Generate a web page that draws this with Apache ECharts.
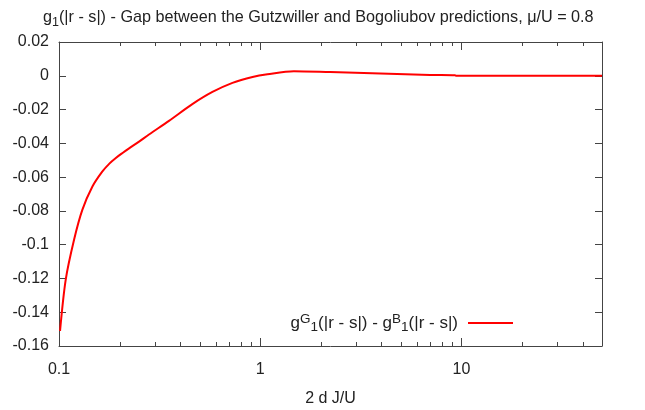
<!DOCTYPE html>
<html>
<head>
<meta charset="utf-8">
<script src="https://cdn.jsdelivr.net/npm/echarts@6/dist/echarts.min.js"></script>
<style>
  html, body { margin: 0; padding: 0; background: #fff; }
  #chart { width: 645px; height: 410px; }
</style>
</head>
<body>
<div id="chart"></div>
<script>
// 2 d J/U values (log scale) and the Gutzwiller - Bogoliubov gap of g1
const xValues = [0.1012, 0.108, 0.1188, 0.1306, 0.1466, 0.164, 0.178, 0.191, 0.207, 0.223, 0.250, 0.280, 0.352,
                 0.460, 0.579, 0.728, 0.916, 1.087, 1.47, 2.23, 3.27, 4.79, 7.0, 9.3, 9.45, 15, 25, 50];
const gapValues = [-0.1511, -0.1207, -0.0971, -0.0794, -0.0656, -0.0568, -0.0520, -0.0488, -0.0457, -0.0430,
                   -0.0390, -0.0348, -0.0267, -0.0168, -0.0096, -0.0042, -0.0007, 0.0009, 0.0027, 0.0022,
                   0.0017, 0.0011, 0.0005, 0.0003, 0.0000, 0.0000, 0.0000, 0.0000];

// axis ranges and ticks
const xRange = [0.1, 50];
const yRange = [-0.16, 0.02];
const yStep = 0.02;
// minor ticks of the logarithmic x axis
const xMinorTicks = [0.2, 0.3, 0.4, 0.5, 0.6, 0.7, 0.8, 0.9, 2, 3, 4, 5, 6, 7, 8, 9, 20, 30, 40];

const seriesName = 'gap';
const FONT = 'Liberation Sans';
const INK = '#222';
const FRAME = '#444';

const chart = echarts.init(document.getElementById('chart'), null, { renderer: 'canvas' });

const lineData = xValues.map((x, i) => [x, gapValues[i]]);

const fmtY = v => {
  const r = Math.round(v * 100) / 100;
  return r === 0 ? '0' : String(r);
};

chart.setOption({
  animation: false,
  backgroundColor: '#fff',
  title: {
    text: '{n|g}{sub|1}{n|(|r - s|) - Gap between the Gutzwiller and Bogoliubov predictions, μ/U = 0.8}',
    left: 38,
    top: 2,
    textStyle: {
      fontWeight: 'normal',
      rich: {
        n: { fontFamily: FONT, fontSize: 16.2, fontWeight: 'normal', color: INK, lineHeight: 22 },
        sub: { fontFamily: FONT, fontSize: 12.5, fontWeight: 'normal', color: INK, lineHeight: 12, verticalAlign: 'bottom' }
      }
    }
  },
  legend: {
    data: [{ name: seriesName, icon: 'rect' }],
    right: 127,
    top: 307,
    align: 'right',
    itemWidth: 45,
    itemHeight: 2,
    formatter: () => '{n|g}{sup|G}{sub|1}{n|(|r - s|) - g}{sup|B}{sub|1}{e|(|r - s|)}',
    textStyle: {
      rich: {
        n: { fontFamily: FONT, fontSize: 17, color: INK, lineHeight: 22 },
        e: { fontFamily: FONT, fontSize: 17, color: INK, lineHeight: 22, padding: [0, 5, 0, 0] },
        sup: { fontFamily: FONT, fontSize: 13.5, color: INK, lineHeight: 13, verticalAlign: 'top' },
        sub: { fontFamily: FONT, fontSize: 13.5, color: INK, lineHeight: 13, verticalAlign: 'bottom' }
      }
    }
  },
  grid: { left: 59, right: 43, top: 42, bottom: 64, outerBoundsMode: 'none', containLabel: false },
  xAxis: [
    {
      type: 'log', logBase: 10, min: xRange[0], max: xRange[1], position: 'bottom',
      axisLine: { show: true, onZero: false, lineStyle: { color: FRAME, width: 1 } },
      axisTick: { show: true, inside: true, length: 8, lineStyle: { color: FRAME } },
      axisLabel: { fontFamily: FONT, fontSize: 16, color: INK, margin: 16, showMaxLabel: false },
      splitLine: { show: false },
      name: '2 d J/U', nameLocation: 'middle', nameGap: 45,
      nameTextStyle: { fontFamily: FONT, fontSize: 16, color: INK }
    },
    {
      type: 'log', logBase: 10, min: xRange[0], max: xRange[1], position: 'top',
      axisLine: { show: true, onZero: false, lineStyle: { color: FRAME, width: 1 } },
      axisTick: { show: true, inside: true, length: 8, lineStyle: { color: FRAME } },
      axisLabel: { show: false },
      splitLine: { show: false }
    }
  ],
  yAxis: [
    {
      type: 'value', min: yRange[0], max: yRange[1], interval: yStep, position: 'left',
      axisLine: { show: true, onZero: false, lineStyle: { color: FRAME, width: 1 } },
      axisTick: { show: true, inside: true, length: 7, lineStyle: { color: FRAME } },
      axisLabel: { fontFamily: FONT, fontSize: 16, color: INK, margin: 10, padding: [3, 0, 0, 0], formatter: fmtY },
      splitLine: { show: false }
    },
    {
      type: 'value', min: yRange[0], max: yRange[1], interval: yStep, position: 'right',
      axisLine: { show: true, onZero: false, lineStyle: { color: FRAME, width: 1 } },
      axisTick: { show: true, inside: true, length: 7, lineStyle: { color: FRAME } },
      axisLabel: { show: false },
      splitLine: { show: false }
    }
  ],
  series: [
    {
      name: seriesName,
      type: 'line',
      xAxisIndex: 0, yAxisIndex: 0,
      data: lineData,
      symbol: 'none',
      smooth: 0.3,
      color: '#ff0000',
      lineStyle: { color: '#ff0000', width: 2 },
      z: 3
    },
    {
      // short minor tick marks on the top and bottom frame
      type: 'custom',
      xAxisIndex: 0, yAxisIndex: 0,
      silent: true,
      clip: false,
      data: xMinorTicks.map(v => [v, 0]),
      renderItem: (params, api) => {
        const cs = params.coordSys;
        const px = Math.round(api.coord([api.value(0), 0])[0]) + 0.5;
        const style = { stroke: FRAME, lineWidth: 1 };
        return {
          type: 'group',
          children: [
            { type: 'line', shape: { x1: px, y1: cs.y + cs.height, x2: px, y2: cs.y + cs.height - 4 }, style },
            { type: 'line', shape: { x1: px, y1: cs.y, x2: px, y2: cs.y + 4 }, style }
          ]
        };
      },
      z: 2
    }
  ]
});
</script>
</body>
</html>
